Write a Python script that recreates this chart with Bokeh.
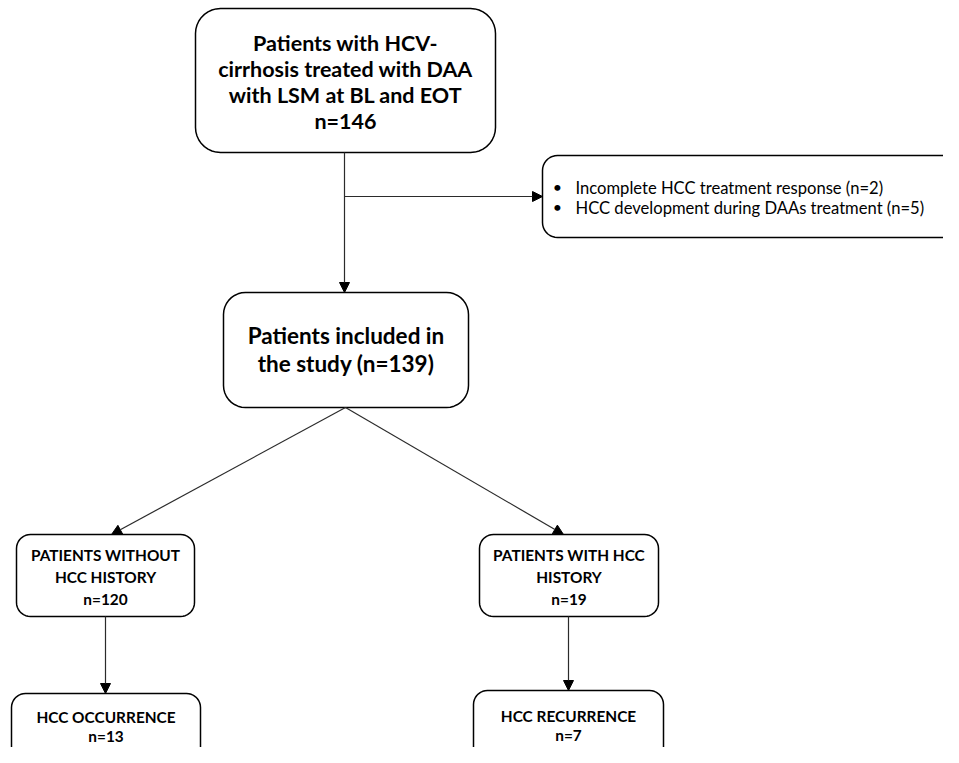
import numpy as np
from bokeh.plotting import figure
from bokeh.models import Range1d, ColumnDataSource, Arrow, NormalHead
from bokeh.core.properties import value
from bokeh.embed import file_html
from bokeh.resources import INLINE

# ---------------- data ----------------
screened_label = ["Patients with HCV-", "cirrhosis treated with DAA", "with LSM at BL and EOT"]
screened_n = 146
excluded_reasons = ["Incomplete HCC treatment response", "HCC development during DAAs treatment"]
excluded_n = [2, 5]
included_label = ["Patients included in", "the study"]
included_n = 139
group_labels = [["PATIENTS WITHOUT", "HCC HISTORY"], ["PATIENTS WITH HCC", "HISTORY"]]
group_n = [120, 19]
outcome_labels = ["HCC OCCURRENCE", "HCC RECURRENCE"]
outcome_n = [13, 7]

# ---------------- layout (pixel-like coordinates, y down) ----------------
W, H = 943, 747
boxes = {
    "screened": (195, 8, 495, 152, 25),
    "excluded": (542, 155, 975, 237, 15),
    "included": (223, 292, 468, 407, 22),
    "g0": (16, 534, 194, 616, 14),
    "g1": (479, 534, 658, 616, 14),
    "o0": (11, 693, 200, 780, 14),
    "o1": (473, 690, 663, 780, 14),
}

FONT = "Lato"
LINE = "#2b2b2b"

p = figure(width=W, height=H, output_backend="svg", toolbar_location=None,
           x_range=Range1d(0, W), y_range=Range1d(H, 0),
           min_border=0)
p.axis.visible = False
p.grid.visible = False
p.outline_line_color = None
p.background_fill_color = "white"
p.border_fill_color = "white"


def rounded(x0, y0, x1, y1, r, n=10):
    xs, ys = [], []
    corners = [(x1 - r, y0 + r, -90, 0), (x1 - r, y1 - r, 0, 90),
               (x0 + r, y1 - r, 90, 180), (x0 + r, y0 + r, 180, 270)]
    for cx, cy, a0, a1 in corners:
        t = np.radians(np.linspace(a0, a1, n))
        xs.extend(cx + r * np.cos(t))
        ys.extend(cy + r * np.sin(t))
    return xs, ys


bx, by = [], []
for k, (x0, y0, x1, y1, r) in boxes.items():
    xs, ys = rounded(x0, y0, x1, y1, r)
    bx.append(xs)
    by.append(ys)
p.patches(bx, by, fill_color="white", line_color="black", line_width=1.5)


def cx(k):
    b = boxes[k]
    return (b[0] + b[2]) / 2


def arrow(x0, y0, x1, y1):
    p.add_layout(Arrow(x_start=x0, y_start=y0, x_end=x1, y_end=y1,
                       line_color=LINE, line_width=1.2,
                       end=NormalHead(size=10, fill_color="black", line_color="black", line_width=1)))


sx = 344
arrow(sx, boxes["screened"][3], sx, boxes["included"][1])
branch_y = 196
arrow(sx, branch_y, boxes["excluded"][0], branch_y)
inc_bottom = boxes["included"][3]
arrow(345, inc_bottom, 111, boxes["g0"][1])
arrow(345, inc_bottom, 563, boxes["g1"][1])
arrow(105, boxes["g0"][3], 105, boxes["o0"][1])
arrow(568, boxes["g1"][3], 568, boxes["o1"][1])


def add_text(xs, ys, texts, size, style="bold", align="center"):
    src = ColumnDataSource(dict(x=xs, y=ys, t=texts))
    p.text("x", "y", "t", source=src, text_font=value(FONT), text_font_size=size,
           text_font_style=style, text_align=align, text_baseline="middle", text_color="black")


# screened box
lines = screened_label + [f"n={screened_n}"]
add_text([cx("screened")] * 4, [42, 68, 94, 120], lines, "21.5px")

# included box
lines = [included_label[0], f"{included_label[1]} (n={included_n})"]
add_text([cx("included")] * 2, [335, 363], lines, "22.5px")

# excluded box
ex_lines = [f"{r} (n={n})" for r, n in zip(excluded_reasons, excluded_n)]
add_text([575, 575], [187, 207], ex_lines, "16.6px", style="normal", align="left")
add_text([557, 557], [186, 206], ["\u2022", "\u2022"], "16px", style="normal")

# group boxes
for i, g in enumerate(["g0", "g1"]):
    lines = group_labels[i] + [f"n={group_n[i]}"]
    add_text([cx(g)] * 3, [554, 576, 598], lines, "15.4px")

# outcome boxes
oy = [[716, 735], [715, 734]]
for i, o in enumerate(["o0", "o1"]):
    lines = [outcome_labels[i], f"n={outcome_n[i]}"]
    add_text([cx(o)] * 2, oy[i], lines, "15.4px")

open("out.html", "w").write(file_html(p, INLINE))
